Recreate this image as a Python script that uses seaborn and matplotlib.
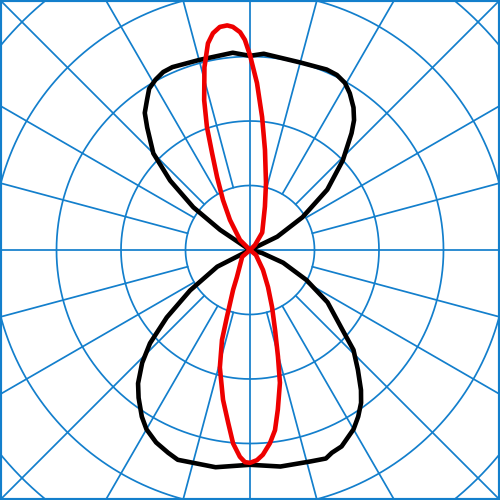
import numpy as np
import pandas as pd
import matplotlib
matplotlib.use("Agg")
import matplotlib.pyplot as plt
import seaborn as sns

# Polar light-distribution data: angle (deg, 0 = straight down, + = right side), intensity
black_angle = [-180, -175, -165, -157, -154, -151, -148, -145.5, -142.5, -140, -135, -131,
               -127, -124, -120,
               -66, -63, -56, -51, -47, -43.7, -40, -37, -33, -30, -26, -22, -19, -9, 0,
               8, 16, 20, 22, 25, 30, 33, 36, 38.4, 42, 46, 49, 56, 62, 69, 76, 80,
               113, 116, 122, 128, 134, 139, 141.3, 144, 147.5, 150.4, 153.6, 157, 165,
               176, 180]
black_value = [301, 307, 305, 308, 307, 302, 295, 282, 268, 248, 212, 164,
               110, 56, 0,
               0, 57, 112, 166, 212, 242, 270, 287, 308, 321, 332, 339, 344, 341, 333,
               339, 341, 344, 339, 336, 321, 308, 293, 277, 250, 223, 191, 145, 99, 55, 19, 0,
               0, 47, 96, 152, 200, 240, 258, 273, 288, 298, 303, 304, 301,
               305, 301]

red_angle = [-180, -178.6, -177.4, -175.6, -174.2, -172.3, -170.3, -168.5, -166, -163,
             -160.7, -158.6, -155.7, -151.6, -146.3, -135, -90, -49, -25.7, -23, -19,
             -17.3, -14.4, -10.2, -7.2, -5, -2.8, -1.35, 0, 1.9, 3.6, 5.9, 7.9, 9.9,
             12.7, 14.7, 17.4, 21.1, 25.9, 33, 50, 90, 135, 145, 161, 166.6, 171.5,
             174.8, 177.6, 180]
red_value = [302, 326, 338, 347, 350, 349, 341, 327, 292, 243,
             202, 161, 124, 88, 56, 22, 0, 16, 47, 67, 110,
             146, 188, 236, 270, 301, 321, 329, 330, 326, 318, 301, 282, 251,
             211, 171, 130, 95, 64, 37, 12, 0, 11, 33, 71, 107, 157,
             207, 259, 302]

ring_values = [100, 200, 300, 400, 500]
spoke_angles = list(range(0, 360, 15))

GRID = "#137fcc"
LIM = 387.6

sns.set_theme(style="white")
fig = plt.figure(figsize=(5, 5), dpi=100)
ax = fig.add_axes([0, 0, 1, 1])


def to_xy(angles, values):
    a = np.radians(np.asarray(angles, dtype=float))
    v = np.asarray(values, dtype=float)
    return v * np.sin(a), -v * np.cos(a)

# grid circles
t = np.linspace(0, 2 * np.pi, 721)
for r in ring_values:
    ax.plot(r * np.cos(t), r * np.sin(t), color=GRID, lw=1.25, zorder=1)

# spokes
for ang in spoke_angles:
    a = np.radians(ang)
    r0 = 0 if ang % 90 == 0 else ring_values[0]
    ax.plot([r0 * np.sin(a), 700 * np.sin(a)], [r0 * np.cos(a), 700 * np.cos(a)],
            color=GRID, lw=1.25, zorder=1)

bx, by = to_xy(black_angle, black_value)
rx, ry = to_xy(red_angle, red_value)
df_b = pd.DataFrame({"x": bx, "y": by})
df_r = pd.DataFrame({"x": rx, "y": ry})

sns.lineplot(data=df_b, x="x", y="y", sort=False, estimator=None, color="black",
             lw=3.3, ax=ax, zorder=3, solid_joinstyle="round", solid_capstyle="round")
sns.lineplot(data=df_r, x="x", y="y", sort=False, estimator=None, color="#ee0000",
             lw=3.3, ax=ax, zorder=4, solid_joinstyle="round", solid_capstyle="round")

ax.set_xlim(-LIM, LIM)
ax.set_ylim(-LIM, LIM)
ax.set_aspect("equal")
ax.set_xticks([])
ax.set_yticks([])
ax.set_xlabel("")
ax.set_ylabel("")
for s in ax.spines.values():
    s.set_visible(True)
    s.set_color(GRID)
    s.set_linewidth(3)

fig.savefig("out.png", dpi=100)
